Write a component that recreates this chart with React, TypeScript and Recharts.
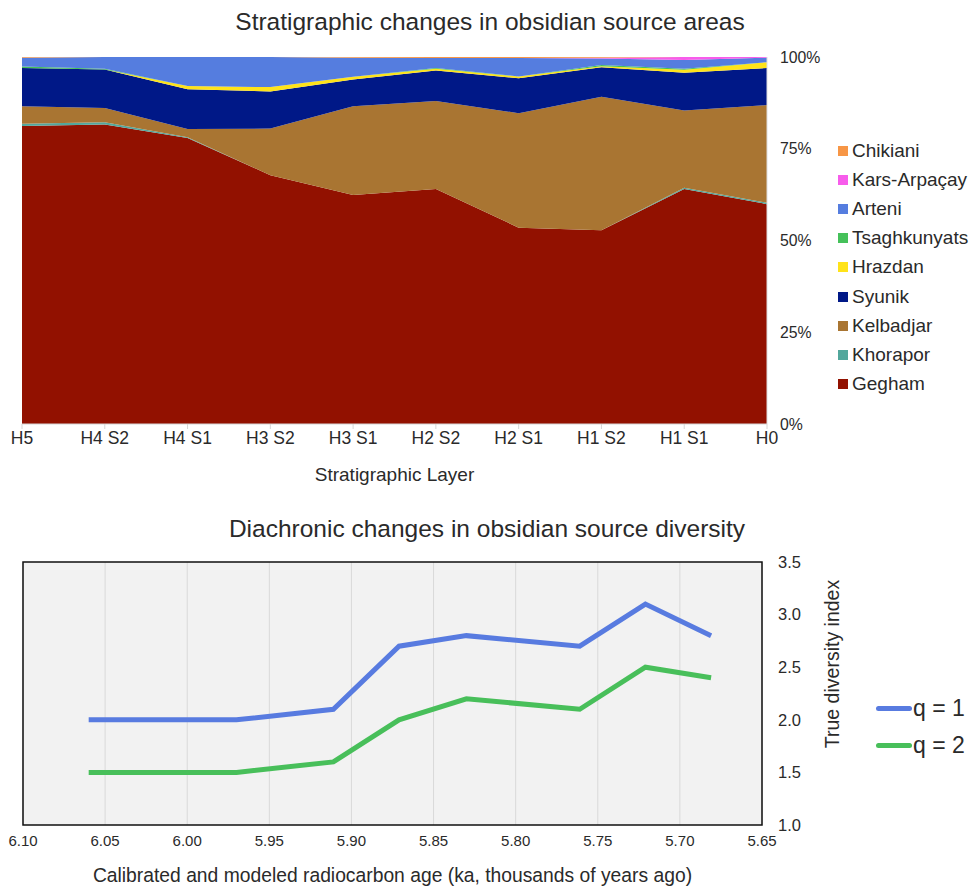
import React from 'react';
import {
  AreaChart,
  Area,
  LineChart,
  Line,
  XAxis,
  YAxis,
  CartesianGrid,
  ReferenceArea,
} from 'recharts';

// stratigraphic layers, oldest to youngest
const layers = ['H5', 'H4 S2', 'H4 S1', 'H3 S2', 'H3 S1', 'H2 S2', 'H2 S1', 'H1 S2', 'H1 S1', 'H0'];

// percent of assemblage per source
const gegham = [81.2, 81.6, 77.9, 67.8, 62.4, 64.0, 53.5, 52.8, 64.0, 59.9];
const khorapor = [0.6, 0.6, 0.2, 0, 0, 0, 0, 0, 0.4, 0.4];
const kelbadjar = [4.8, 3.9, 2.3, 12.7, 24.2, 24.0, 31.2, 36.4, 21.0, 26.6];
const syunik = [10.4, 10.5, 10.8, 10.1, 7.3, 8.3, 9.5, 8.0, 10.3, 10.1];
const hrazdan = [0, 0, 0.9, 1.2, 0.7, 0.5, 0.5, 0.3, 0.8, 1.6];
const tsaghkunyats = [0.4, 0.2, 0, 0, 0, 0.2, 0, 0.3, 0.3, 0];
const arteni = [2.4, 3.2, 7.9, 8.2, 5.2, 2.7, 5.0, 1.8, 2.4, 1.2];
const karsArpacay = [0, 0, 0, 0, 0, 0, 0, 0.2, 0.8, 0.2];
const chikiani = [0.2, 0, 0, 0, 0.2, 0.3, 0.3, 0.2, 0, 0];

// diversity over time (ka)
const ages = [6.06, 5.97, 5.911, 5.871, 5.83, 5.761, 5.721, 5.681];
const q1 = [2.0, 2.0, 2.1, 2.7, 2.8, 2.7, 3.1, 2.8];
const q2 = [1.5, 1.5, 1.6, 2.0, 2.2, 2.1, 2.5, 2.4];

const ageTicks = [6.1, 6.05, 6.0, 5.95, 5.9, 5.85, 5.8, 5.75, 5.7, 5.65];
const diversityTicks = [1.0, 1.5, 2.0, 2.5, 3.0, 3.5];
const pctTicks = [0, 0.25, 0.5, 0.75, 1];

// stacking order, bottom first
const sources = [
  { key: 'Gegham', values: gegham, color: '#921100' },
  { key: 'Khorapor', values: khorapor, color: '#52a79c' },
  { key: 'Kelbadjar', values: kelbadjar, color: '#a97532' },
  { key: 'Syunik', values: syunik, color: '#001887' },
  { key: 'Hrazdan', values: hrazdan, color: '#ffe31a' },
  { key: 'Tsaghkunyats', values: tsaghkunyats, color: '#45c15a' },
  { key: 'Arteni', values: arteni, color: '#557ddf' },
  { key: 'Kars-Arpaçay', values: karsArpacay, color: '#f75ceb' },
  { key: 'Chikiani', values: chikiani, color: '#f79646' },
];

const lines = [
  { key: 'q = 1', values: q1, color: '#587be0' },
  { key: 'q = 2', values: q2, color: '#48bf5a' },
];

const layerData = layers.map((layer, i) => {
  const row: Record<string, string | number> = { layer };
  sources.forEach((s) => (row[s.key] = s.values[i]));
  return row;
});

const ageData = ages.map((age, i) => {
  const row: Record<string, number> = { age };
  lines.forEach((l) => (row[l.key] = l.values[i]));
  return row;
});

const font = '"Liberation Sans", Arial, Helvetica, sans-serif';
const textColor = '#2a2a2a';

export default function App() {
  return (
    <div style={{ position: 'absolute', left: 0, top: 0, width: 970, height: 886, fontFamily: font, color: textColor }}>
      <div style={{ position: 'absolute', left: 0, top: 7, width: 980, textAlign: 'center', fontSize: 24.5, lineHeight: '30px' }}>
        Stratigraphic changes in obsidian source areas
      </div>

      <div style={{ position: 'absolute', left: 0, top: 0 }}>
        <AreaChart
          width={970}
          height={500}
          data={layerData}
          stackOffset="expand"
          margin={{ top: 57, right: 143, left: 22, bottom: 46 }}
        >
          <XAxis
            dataKey="layer"
            interval={0}
            tick={{ fontSize: 17.5, fill: textColor, fontFamily: font }}
            axisLine={{ stroke: '#d6d6d6' }}
            tickLine={{ stroke: '#d6d6d6' }}
            tickSize={5}
            tickMargin={3}
            label={{ value: 'Stratigraphic Layer', position: 'bottom', offset: 14, fontSize: 19, fill: textColor, fontFamily: font }}
          />
          <YAxis
            orientation="right"
            width={60}
            domain={[0, 1]}
            ticks={pctTicks}
            tickFormatter={(v: number) => `${Math.round(v * 100)}%`}
            tick={{ fontSize: 15.8, fill: textColor, fontFamily: font }}
            axisLine={{ stroke: '#dddddd' }}
            tickLine={false}
            tickSize={0}
            tickMargin={13}
          />
          {sources.map((s) => (
            <Area
              key={s.key}
              type="linear"
              dataKey={s.key}
              stackId="1"
              stroke="none"
              fill={s.color}
              fillOpacity={1}
              isAnimationActive={false}
            />
          ))}
        </AreaChart>
      </div>

      <div style={{ position: 'absolute', left: 838, top: 136 }}>
        {[...sources].reverse().map((s) => (
          <div key={s.key} style={{ display: 'flex', alignItems: 'center', height: 29.2, fontSize: 19 }}>
            <span style={{ display: 'inline-block', width: 10, height: 10, background: s.color, marginRight: 4 }} />
            <span>{s.key}</span>
          </div>
        ))}
      </div>

      <div style={{ position: 'absolute', left: 0, top: 514, width: 974, textAlign: 'center', fontSize: 24.5, lineHeight: '30px' }}>
        Diachronic changes in obsidian source diversity
      </div>

      <div style={{ position: 'absolute', left: 0, top: 500 }}>
        <LineChart
          width={970}
          height={386}
          data={ageData}
          margin={{ top: 62, right: 148, left: 23, bottom: 31 }}
        >
          <CartesianGrid horizontal={false} stroke="#d9d9d9" fill="#f2f2f2" />
          <XAxis
            dataKey="age"
            type="number"
            domain={[5.65, 6.1]}
            reversed
            ticks={ageTicks}
            interval={0}
            tickFormatter={(v: number) => v.toFixed(2)}
            tick={{ fontSize: 15, fill: textColor, fontFamily: font }}
            axisLine={false}
            tickLine={false}
            tickSize={6}
            tickMargin={4}
            label={{
              value: 'Calibrated and modeled radiocarbon age (ka, thousands of years ago)',
              position: 'bottom',
              offset: 13,
              fontSize: 19.3,
              fill: textColor,
              fontFamily: font,
            }}
          />
          <YAxis
            orientation="right"
            width={60}
            domain={[1, 3.5]}
            ticks={diversityTicks}
            tickFormatter={(v: number) => v.toFixed(1)}
            tick={{ fontSize: 16.5, fill: textColor, fontFamily: font }}
            axisLine={false}
            tickLine={false}
            tickSize={0}
            tickMargin={16}
          />
          <ReferenceArea x1={6.1} x2={5.65} y1={1} y2={3.5} fill="none" stroke="#111" strokeWidth={1.5} />
          {lines.map((l) => (
            <Line
              key={l.key}
              type="linear"
              dataKey={l.key}
              stroke={l.color}
              strokeWidth={5}
              dot={false}
              isAnimationActive={false}
            />
          ))}
        </LineChart>
      </div>

      <div
        style={{
          position: 'absolute',
          left: 832,
          top: 664,
          transform: 'translate(-50%, -50%) rotate(-90deg)',
          whiteSpace: 'nowrap',
          fontSize: 19.5,
        }}
      >
        True diversity index
      </div>

      <div style={{ position: 'absolute', left: 876, top: 690 }}>
        {lines.map((l) => (
          <div key={l.key} style={{ display: 'flex', alignItems: 'center', height: 37, fontSize: 23 }}>
            <span style={{ display: 'inline-block', width: 36, height: 5, borderRadius: 3, background: l.color, marginRight: 1 }} />
            <span>{l.key}</span>
          </div>
        ))}
      </div>
    </div>
  );
}
